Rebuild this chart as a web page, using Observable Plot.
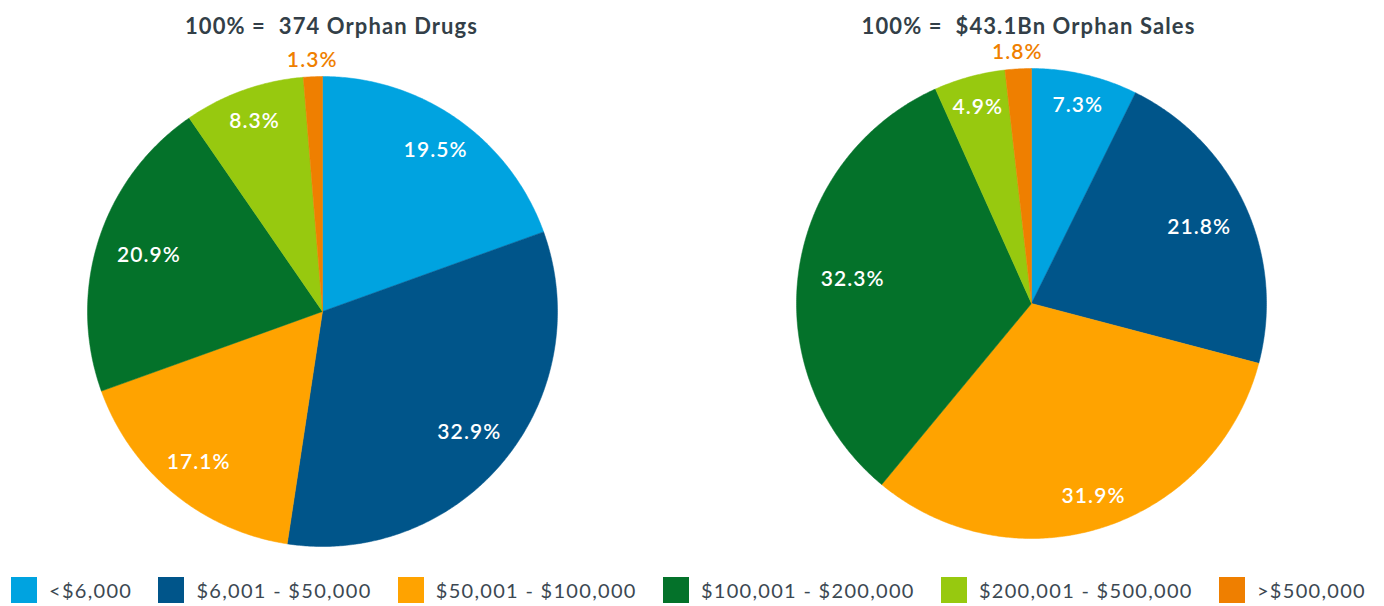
<!DOCTYPE html>
<html><head><meta charset="utf-8">
<script src="https://cdn.jsdelivr.net/npm/d3@7"></script>
<script src="https://cdn.jsdelivr.net/npm/@observablehq/plot@0.6"></script>
<style>
body{margin:0;background:#fff;font-family:Lato,"Open Sans",sans-serif;}
#wrap{position:relative;width:1384px;height:606px;overflow:hidden;}
#charts{display:flex;}
#charts svg text{letter-spacing:1.1px;}
#legend{position:absolute;left:11px;top:577px;width:1355px;display:flex;justify-content:space-between;align-items:center;}
.item{display:flex;align-items:center;font-size:20px;color:#3c4852;white-space:nowrap;letter-spacing:1.3px;}
.sw{width:26px;height:26px;margin-right:12px;}
</style></head><body>
<div id="wrap"><div id="charts"></div><div id="legend"></div></div>
<script>
const categories = ["<$6,000","$6,001 - $50,000","$50,001 - $100,000","$100,001 - $200,000","$200,001 - $500,000",">$500,000"];
const colors = ["#00a3e0","#00558a","#ffa300","#04722a","#97c90f","#ef7f00"];
const drugsShare = [19.5,32.9,17.1,20.9,8.3,1.3];
const salesShare = [7.3,21.8,31.9,32.3,4.9,1.8];
const titles = ["100% =\u00a0\u00a0374 Orphan Drugs","100% =\u00a0\u00a0$43.1Bn Orphan Sales"];

const layouts = [{cx:322, cy:311, r:235, tdx:9},{cx:339, cy:303, r:235, tdx:-3}];

function pie(values, title, L){
  const total = d3.sum(values);
  let acc = 0;
  const slices = values.map((v,i)=>{const a0 = acc/total*2*Math.PI; acc += v; const a1 = acc/total*2*Math.PI; return {cat:categories[i], v, a0, a1};});
  const pts = [];
  for (const s of slices){
    pts.push({cat:s.cat, x:0, y:0});
    const n = Math.max(2, Math.ceil((s.a1-s.a0)/(Math.PI/360)));
    for (let k=0;k<=n;k++){const a = s.a0+(s.a1-s.a0)*k/n; pts.push({cat:s.cat, x:Math.sin(a), y:Math.cos(a)});}
    pts.push({cat:s.cat, x:0, y:0});
  }
  const labels = slices.map(s=>{
    const m = (s.a0+s.a1)/2; const sn = Math.sin(m);
    const outside = s.v < 3;
    const d = outside ? 1.07 : (205 - 25*sn*sn)/235;
    return {cat:s.cat, text:s.v.toFixed(1)+"%", x:d*Math.sin(m), y:d*Math.cos(m), outside};
  });
  return Plot.plot({
    width:692, height:560, margin:0,
    style:{fontFamily:"Lato, 'Open Sans', sans-serif", background:"transparent"},
    x:{domain:[-1,1], range:[L.cx-L.r, L.cx+L.r], axis:null},
    y:{domain:[-1,1], range:[L.cy+L.r, L.cy-L.r], axis:null},
    color:{domain:categories, range:colors},
    marks:[
      Plot.line(pts, {x:"x", y:"y", z:"cat", fill:"cat", stroke:"cat", strokeWidth:0.5}),
      Plot.text(labels.filter(d=>!d.outside), {x:"x", y:"y", text:"text", fill:"white", fontSize:21, fontWeight:600}),
      Plot.text(labels.filter(d=>d.outside), {x:"x", y:"y", text:"text", fill:"cat", fontSize:21, fontWeight:600}),
      Plot.text([title], {x:0, frameAnchor:"top", dy:18, dx:L.tdx, text:d=>d, fontSize:22, fontWeight:700, fill:"#333f48"})
    ]
  });
}
const charts = document.getElementById("charts");
charts.append(pie(drugsShare, titles[0], layouts[0]));
charts.append(pie(salesShare, titles[1], layouts[1]));

const legend = d3.select("#legend");
categories.forEach((c,i)=>{
  const it = legend.append("div").attr("class","item");
  it.append("div").attr("class","sw").style("background", colors[i]);
  it.append("span").text(c);
});
</script>
</body></html>
